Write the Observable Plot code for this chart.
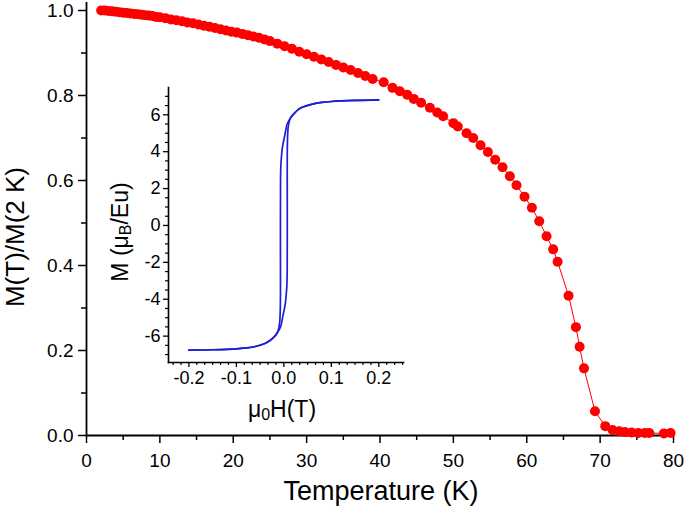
<!DOCTYPE html>
<html>
<head>
<meta charset="utf-8">
<script src="https://cdn.jsdelivr.net/npm/d3@7"></script>
<script src="https://cdn.jsdelivr.net/npm/@observablehq/plot@0.6"></script>
<style>
  html, body { margin: 0; padding: 0; background: white; }
  #wrap { position: relative; width: 685px; height: 514px; overflow: hidden; }
  #inset { position: absolute; left: 100px; top: 80px; }
</style>
</head>
<body>
<div id="wrap"><div id="main"></div><div id="inset"></div></div>
<script>
// ---- Main data: M(T)/M(2 K) vs temperature ----
const temperature = [
  2, 2.5, 3, 3.5, 4, 4.5, 5, 5.5, 6, 6.5, 7, 7.5, 8, 8.5, 9, 9.5, 10,
  10.75, 11.5, 12.25, 13, 13.75, 14.5, 15.25, 16, 16.75, 17.5, 18.25, 19, 19.75,
  20.5, 21.25, 22, 22.75, 23.5, 24.25, 25, 26, 27, 28, 29,
  30, 31, 32, 33, 34, 35, 36, 37, 38, 39, 40.5, 41.7, 42.7, 43.7, 44.6, 45.6,
  46.8, 47.8, 48.6, 50.0, 50.6, 51.8, 52.7, 53.7, 54.7, 55.7, 56.7, 57.7, 58.6,
  59.7, 60.7, 61.7, 62.7, 63.6, 64.2, 65.7, 66.7, 67.2, 67.8, 69.3, 70.7, 71.7,
  72.6, 73.4, 74.3, 75.2, 76.1, 76.7, 78.7, 79.6
];
const mRatio = [
  1.000, 1.000, 0.999, 0.998, 0.997, 0.996, 0.995, 0.994, 0.993, 0.992, 0.991, 0.990, 0.989, 0.988, 0.987, 0.985, 0.984,
  0.982, 0.979, 0.977, 0.975, 0.972, 0.970, 0.967, 0.964, 0.962, 0.959, 0.956, 0.953, 0.950,
  0.948, 0.945, 0.942, 0.939, 0.936, 0.932, 0.928, 0.922, 0.916, 0.910, 0.903,
  0.897, 0.891, 0.885, 0.879, 0.872, 0.866, 0.860, 0.853, 0.846, 0.839, 0.831, 0.818, 0.810, 0.802, 0.792, 0.783,
  0.771, 0.760, 0.751, 0.735, 0.727, 0.711, 0.700, 0.683, 0.667, 0.649, 0.631, 0.610, 0.589,
  0.562, 0.536, 0.504, 0.469, 0.438, 0.409, 0.329, 0.255, 0.209, 0.158, 0.057, 0.022, 0.013,
  0.010, 0.008, 0.007, 0.006, 0.006, 0.006, 0.005, 0.006
];
const tempTicks = [0, 10, 20, 30, 40, 50, 60, 70, 80];
const tempMinorTicks = [5, 15, 25, 35, 45, 55, 65, 75];
const ratioTicks = [0.0, 0.2, 0.4, 0.6, 0.8, 1.0];
const ratioMinorTicks = [0.1, 0.3, 0.5, 0.7, 0.9];

// ---- Inset data: hysteresis loop M (muB/Eu) vs mu0H (T) ----
const fieldDown = [0.200, 0.150, 0.100, 0.080, 0.060, 0.040, 0.030, 0.021, 0.014, 0.007, 0.002, -0.003, -0.006, -0.007, -0.0072, -0.0075, -0.009, -0.012, -0.016, -0.021, -0.030, -0.040, -0.060, -0.080, -0.100, -0.150, -0.200];
const momentDown = [6.81, 6.78, 6.72, 6.67, 6.58, 6.42, 6.28, 6.05, 5.82, 5.50, 4.90, 4.24, 3.40, 2.50, -1.00, -4.50, -5.30, -5.70, -5.92, -6.05, -6.25, -6.40, -6.56, -6.64, -6.69, -6.74, -6.76];
const fieldUp = [-0.200, -0.150, -0.100, -0.080, -0.060, -0.040, -0.030, -0.021, -0.014, -0.007, -0.002, 0.003, 0.006, 0.007, 0.0072, 0.0075, 0.009, 0.012, 0.016, 0.021, 0.030, 0.040, 0.060, 0.080, 0.100, 0.150, 0.200];
const momentUp = [-6.76, -6.74, -6.69, -6.64, -6.56, -6.40, -6.25, -6.05, -5.82, -5.50, -4.90, -4.24, -3.40, -2.50, 1.00, 4.50, 5.30, 5.70, 5.92, 6.05, 6.28, 6.42, 6.58, 6.67, 6.72, 6.78, 6.81];
const fieldTicks = [-0.2, -0.1, 0.0, 0.1, 0.2];
const fieldMinorTicks = d3.range(-14, 16).map(i => i / 60).filter(v => Math.abs(v * 10 - Math.round(v * 10)) > 1e-6);
const momentTicks = [-6, -4, -2, 0, 2, 4, 6];
const momentMinorTicks = d3.range(-7, 7.01, 0.5).filter(v => v % 2 !== 0);

const FONT = "'Liberation Sans', Arial, Helvetica, sans-serif";
const hy = s => s.replace("\u2212", "-");

const mainData = temperature.map((t, i) => ({t, m: mRatio[i]}));
const downData = fieldDown.map((h, i) => ({h, m: momentDown[i]}));
const upData = fieldUp.map((h, i) => ({h, m: momentUp[i]}));

const main = Plot.plot({
  width: 685, height: 514,
  marginLeft: 86, marginRight: 12, marginTop: 2, marginBottom: 79,
  style: {fontFamily: FONT, background: "white", color: "black"},
  x: {domain: [0, 80]},
  y: {domain: [0, 433 / 425]},
  marks: [
    Plot.axisY({ticks: ratioTicks, tickSize: 8, tickPadding: 5, fontSize: 19, strokeWidth: 1.5, label: null, tickFormat: d => d3.format(".1f")(d)}),
    Plot.axisY({ticks: ratioMinorTicks, tickSize: 5, strokeWidth: 1.5, label: null, tickFormat: () => ""}),
    Plot.axisX({ticks: tempTicks, tickSize: 8, tickPadding: 10, fontSize: 19, strokeWidth: 1.5, label: null, tickFormat: d => String(d)}),
    Plot.axisX({ticks: tempMinorTicks, tickSize: 5, strokeWidth: 1.5, label: null, tickFormat: () => ""}),
    Plot.ruleX([0], {stroke: "black", strokeWidth: 1.8}),
    Plot.ruleY([0], {stroke: "black", strokeWidth: 1.8}),
    Plot.line(mainData, {x: "t", y: "m", stroke: "#ff0000", strokeWidth: 1}),
    Plot.dot(mainData, {x: "t", y: "m", r: 5, fill: "#ff0000", stroke: "none"})
  ]
});
document.getElementById("main").appendChild(main);

const ms = d3.select(main);
ms.append("text").attr("x", 381).attr("y", 493).attr("text-anchor", "middle").attr("dominant-baseline", "middle")
  .attr("font-size", 27).attr("font-family", FONT).attr("fill", "black").text("Temperature (K)");
ms.append("text").attr("transform", "translate(17,237) rotate(-90)").attr("text-anchor", "middle").attr("dominant-baseline", "middle")
  .attr("font-size", 26).attr("font-family", FONT).attr("fill", "black").text("M(T)/M(2 K)");

const inset = Plot.plot({
  width: 310, height: 345,
  marginLeft: 68, marginRight: 7, marginTop: 7, marginBottom: 63,
  style: {fontFamily: FONT, background: "transparent", color: "black", overflow: "visible"},
  x: {domain: [-0.243, 0.252]},
  y: {domain: [-7.43, 7.48]},
  marks: [
    Plot.axisY({ticks: momentTicks, tickSize: 5, tickPadding: 3, fontSize: 18, strokeWidth: 1.3, label: null, tickFormat: d => hy(String(d))}),
    Plot.axisY({ticks: momentMinorTicks, tickSize: 3, strokeWidth: 1.2, label: null, tickFormat: () => ""}),
    Plot.axisX({ticks: fieldTicks, tickSize: 5, tickPadding: 4, fontSize: 18, strokeWidth: 1.3, label: null, tickFormat: d => hy(d3.format(".1f")(d))}),
    Plot.axisX({ticks: fieldMinorTicks, tickSize: 3, strokeWidth: 1.2, label: null, tickFormat: () => ""}),
    Plot.frame({anchor: "left", stroke: "black", strokeWidth: 1.6}),
    Plot.frame({anchor: "bottom", stroke: "black", strokeWidth: 1.6}),
    Plot.line(downData, {x: "h", y: "m", stroke: "#1f1fd8", strokeWidth: 1.7, curve: "catmull-rom"}),
    Plot.line(upData, {x: "h", y: "m", stroke: "#1f1fd8", strokeWidth: 1.7, curve: "catmull-rom"})
  ]
});
document.getElementById("inset").appendChild(inset);

const is = d3.select(inset);
const xl = is.append("text").attr("x", 182).attr("y", 331).attr("text-anchor", "middle").attr("dominant-baseline", "middle")
  .attr("font-size", 23).attr("font-family", FONT).attr("fill", "black");
xl.append("tspan").text("\u03bc");
xl.append("tspan").attr("font-size", 16).attr("dy", 5).text("0");
xl.append("tspan").attr("dy", -5).text("H(T)");
const yl = is.append("text").attr("transform", "translate(22,152) rotate(-90)").attr("text-anchor", "middle").attr("dominant-baseline", "middle")
  .attr("font-size", 23).attr("font-family", FONT).attr("fill", "black");
yl.append("tspan").text("M (\u03bc");
yl.append("tspan").attr("font-size", 16).attr("dy", 5).text("B");
yl.append("tspan").attr("dy", -5).text("/Eu)");
</script>
</body>
</html>
